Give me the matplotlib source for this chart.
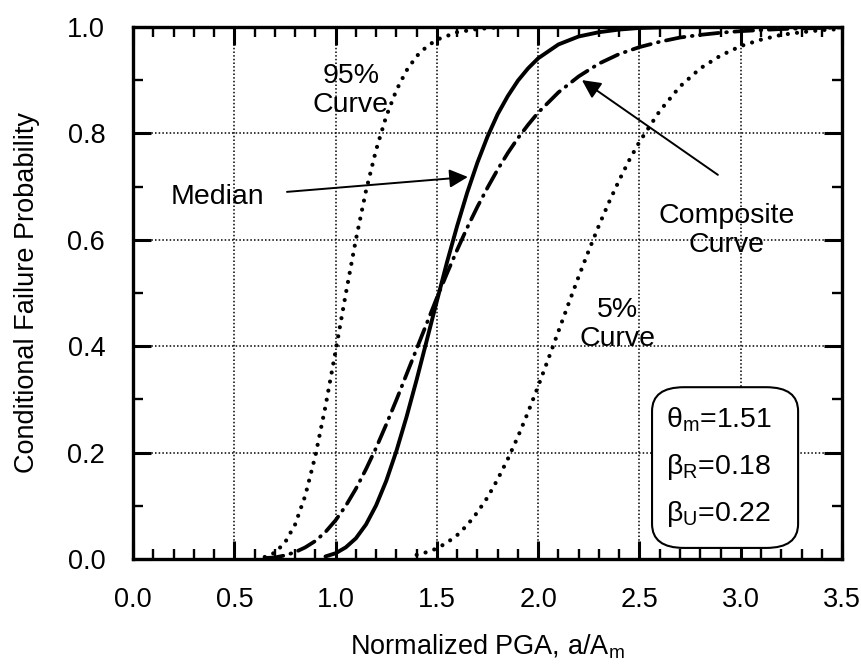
import matplotlib
matplotlib.use("Agg")
import matplotlib.pyplot as plt
from matplotlib.ticker import MultipleLocator
from matplotlib.patches import FancyBboxPatch

plt.rcParams['font.family'] = ['Liberation Sans', 'DejaVu Sans']
plt.rcParams['mathtext.fontset'] = 'custom'
plt.rcParams['mathtext.rm'] = 'Liberation Sans'
plt.rcParams['mathtext.it'] = 'Liberation Sans:italic'

# fragility curves: PGA ratio vs conditional failure probability
median_x = [0.95, 1.00, 1.05, 1.10, 1.15, 1.20, 1.25, 1.30, 1.35, 1.40, 1.45, 1.50,
            1.55, 1.60, 1.65, 1.70, 1.75, 1.80, 1.85, 1.90, 1.95, 2.00, 2.10, 2.20,
            2.30, 2.40, 2.50, 2.60]
median_y = [0.005, 0.011, 0.022, 0.039, 0.065, 0.101, 0.147, 0.203, 0.267, 0.337, 0.411, 0.485,
            0.558, 0.626, 0.689, 0.745, 0.794, 0.836, 0.870, 0.899, 0.922, 0.941, 0.967, 0.982,
            0.990, 0.995, 0.998, 0.999]

p95_x = [0.65, 0.70, 0.75, 0.80, 0.85, 0.90, 0.95, 1.00, 1.05, 1.10, 1.15, 1.20,
         1.25, 1.30, 1.35, 1.40, 1.45, 1.50, 1.60, 1.70, 1.80, 1.90]
p95_y = [0.004, 0.012, 0.031, 0.065, 0.119, 0.194, 0.287, 0.391, 0.498, 0.600, 0.692, 0.769,
         0.832, 0.881, 0.918, 0.945, 0.963, 0.976, 0.990, 0.996, 0.999, 1.000]

p05_x = [1.40, 1.45, 1.50, 1.55, 1.60, 1.65, 1.70, 1.75, 1.80, 1.85, 1.90, 1.95,
         2.00, 2.05, 2.10, 2.15, 2.20, 2.25, 2.30, 2.35, 2.40, 2.45, 2.50, 2.60,
         2.70, 2.80, 2.90, 3.00, 3.10, 3.20, 3.30, 3.40, 3.50]
p05_y = [0.008, 0.013, 0.020, 0.031, 0.045, 0.064, 0.088, 0.116, 0.150, 0.188, 0.230, 0.276,
         0.325, 0.376, 0.428, 0.480, 0.531, 0.580, 0.627, 0.671, 0.712, 0.750, 0.784, 0.842,
         0.888, 0.922, 0.946, 0.964, 0.976, 0.985, 0.990, 0.994, 0.996]

comp_x = [0.65, 0.70, 0.75, 0.80, 0.85, 0.90, 0.95, 1.00, 1.05, 1.10, 1.15, 1.20,
          1.25, 1.30, 1.35, 1.40, 1.45, 1.50, 1.55, 1.60, 1.65, 1.70, 1.75, 1.80,
          1.85, 1.90, 1.95, 2.00, 2.10, 2.20, 2.30, 2.40, 2.50, 2.60, 2.70, 2.80,
          2.90, 3.00, 3.20, 3.40, 3.50]
comp_y = [0.002, 0.003, 0.007, 0.013, 0.022, 0.034, 0.051, 0.073, 0.100, 0.132, 0.169, 0.209,
          0.253, 0.299, 0.347, 0.395, 0.443, 0.491, 0.537, 0.581, 0.623, 0.662, 0.698, 0.732,
          0.763, 0.791, 0.816, 0.839, 0.877, 0.907, 0.931, 0.949, 0.962, 0.972, 0.980, 0.985,
          0.989, 0.992, 0.996, 0.998, 0.999]

x_ticks = [0.0, 0.5, 1.0, 1.5, 2.0, 2.5, 3.0, 3.5]
y_ticks = [0.0, 0.2, 0.4, 0.6, 0.8, 1.0]

fig = plt.figure(figsize=(8.61, 6.72), dpi=100)
ax = fig.add_axes([0.1545, 0.168, 0.8235, 0.792])

dots = (0, (0.01, 2.2))
ax.plot(p95_x, p95_y, color='black', lw=3.0, linestyle=dots, dash_capstyle='round')
ax.plot(p05_x, p05_y, color='black', lw=3.0, linestyle=dots, dash_capstyle='round')
ax.plot(comp_x, comp_y, color='black', lw=2.7, linestyle=(0, (5.0, 2.0, 0.2, 2.0)),
        dash_capstyle='round')
ax.plot(median_x, median_y, color='black', lw=2.8, solid_capstyle='round')

ax.set_xlim(0, 3.5)
ax.set_ylim(0, 1.0)
ax.set_xticks(x_ticks)
ax.set_yticks(y_ticks)
ax.set_xticklabels([f'{v:.1f}' for v in x_ticks])
ax.set_yticklabels([f'{v:.1f}' for v in y_ticks])
ax.xaxis.set_minor_locator(MultipleLocator(0.1))
ax.yaxis.set_minor_locator(MultipleLocator(0.1))
ax.tick_params(which='both', direction='in', top=True, right=True, labelsize=19.5)
ax.tick_params(which='major', length=13, width=2.2, pad=20)
ax.tick_params(which='minor', length=7, width=1.7)
for s in ax.spines.values():
    s.set_linewidth(2.4)
ax.grid(True, which='major', color='black', linestyle=(0, (1, 1.4)), linewidth=1.1)
ax.set_axisbelow(True)

ax.set_xlabel('Normalized PGA, a/A$_\\mathrm{m}$', fontsize=19.5, labelpad=14)
ax.set_ylabel('Conditional Failure Probability', fontsize=19.5, labelpad=20)

fs = 20.5
ax.text(0.415, 0.68, 'Median', fontsize=fs, ha='center', va='center')
ax.text(1.075, 0.88, '95%\nCurve', fontsize=fs, ha='center', va='center', linespacing=1.15)
ax.text(2.93, 0.618, 'Composite\nCurve', fontsize=fs, ha='center', va='center', linespacing=1.15)
ax.text(2.39, 0.44, '5%\nCurve', fontsize=fs, ha='center', va='center', linespacing=1.15)

arrow = dict(arrowstyle='-|>', color='black', lw=1.4, mutation_scale=28,
             shrinkA=0, shrinkB=0)
ax.annotate('', xy=(1.653, 0.718), xytext=(0.76, 0.69), arrowprops=arrow)
ax.annotate('', xy=(2.216, 0.90), xytext=(2.887, 0.722), arrowprops=arrow)

# parameter box
box = FancyBboxPatch((0.732, 0.021), 0.206, 0.302, transform=ax.transAxes,
                     boxstyle='round,pad=0,rounding_size=0.045', facecolor='white',
                     edgecolor='black', lw=1.5, zorder=3)
ax.add_patch(box)
params = ['$\\mathrm{\u03b8}_\\mathrm{m}$=1.51', '$\\mathrm{\u03b2}_\\mathrm{R}$=0.18',
          '$\\mathrm{\u03b2}_\\mathrm{U}$=0.22']
for i, p in enumerate(params):
    ax.text(0.752, 0.262 - i * 0.089, p, transform=ax.transAxes, fontsize=fs,
            ha='left', va='center', zorder=4)

fig.savefig('out.png', dpi=100)
